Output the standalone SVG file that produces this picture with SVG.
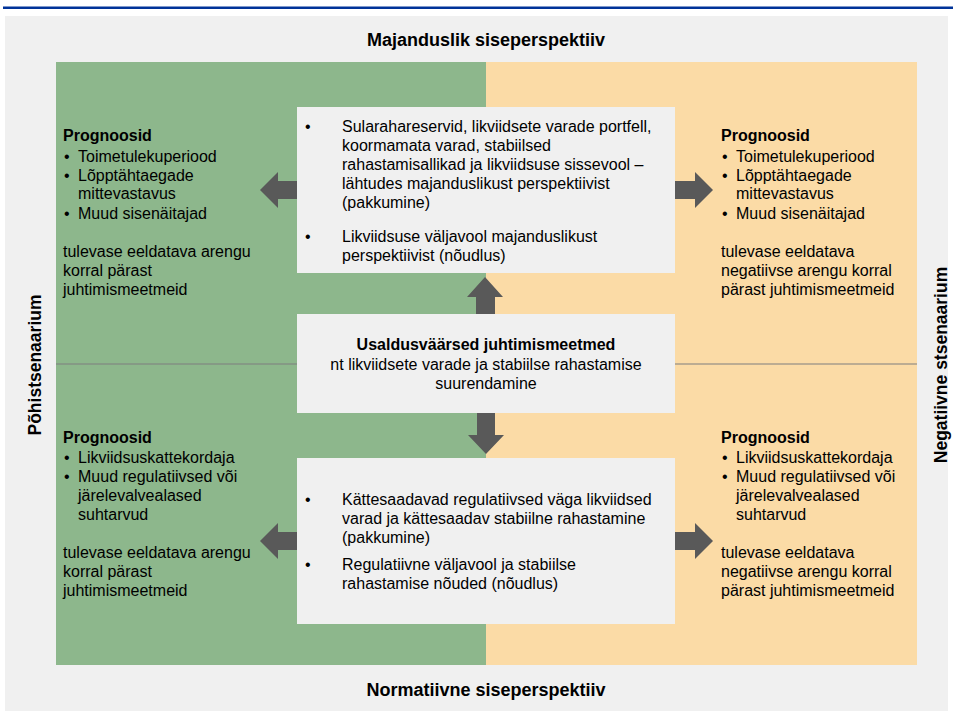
<svg xmlns="http://www.w3.org/2000/svg" width="953" height="711" viewBox="0 0 953 711">
<defs>
<style>
text{font-family:"Liberation Sans",Arial,sans-serif;fill:#000}
.t{font-size:16px}
.b{font-weight:bold}
.h{font-size:18px;font-weight:bold}
.s{font-size:17.5px;font-weight:bold}
.box{fill:#f0f0f0}
.arr{fill:#595959}
</style>
</defs>
<rect x="0" y="0" width="953" height="711" fill="#ffffff"/>
<line x1="3" y1="7.8" x2="953" y2="7.8" stroke="#003399" stroke-width="2.5"/>
<rect x="5" y="16" width="943" height="695" fill="#f0f0f0"/>
<rect x="56" y="62" width="430" height="603" fill="#8db78c"/>
<rect x="486" y="62" width="431" height="603" fill="#fbdba6"/>
<line x1="56" y1="364" x2="917" y2="364" stroke="#7f7f7f" stroke-width="1.2"/>

<g id="title-top"><text class="h" x="486" y="46" text-anchor="middle">Majanduslik siseperspektiiv</text></g>
<g id="title-bottom"><text class="h" x="486" y="696" text-anchor="middle">Normatiivne siseperspektiiv</text></g>
<g id="label-left"><text class="s" transform="translate(41,365) rotate(-90)" text-anchor="middle">Põhistsenaarium</text></g>
<g id="label-right"><text class="s" transform="translate(947,365) rotate(-90)" text-anchor="middle">Negatiivne stsenaarium</text></g>

<g id="top-left">
<text class="t b" x="63" y="141">Prognoosid</text>
<text class="t"><tspan x="64" y="162">•</tspan><tspan x="78" y="162">Toimetulekuperiood</tspan></text>
<text class="t"><tspan x="64" y="181">•</tspan><tspan x="78" y="181">Lõpptähtaegade</tspan><tspan x="78" y="199">mittevastavus</tspan></text>
<text class="t"><tspan x="64" y="219">•</tspan><tspan x="78" y="219">Muud sisenäitajad</tspan></text>
<text class="t"><tspan x="63" y="257">tulevase eeldatava arengu</tspan><tspan x="63" y="276">korral pärast</tspan><tspan x="63" y="295">juhtimismeetmeid</tspan></text>
</g>

<g id="top-right">
<text class="t b" x="721" y="141">Prognoosid</text>
<text class="t"><tspan x="722" y="162">•</tspan><tspan x="736" y="162">Toimetulekuperiood</tspan></text>
<text class="t"><tspan x="722" y="181">•</tspan><tspan x="736" y="181">Lõpptähtaegade</tspan><tspan x="736" y="199">mittevastavus</tspan></text>
<text class="t"><tspan x="722" y="219">•</tspan><tspan x="736" y="219">Muud sisenäitajad</tspan></text>
<text class="t"><tspan x="721" y="257">tulevase eeldatava</tspan><tspan x="721" y="276">negatiivse arengu korral</tspan><tspan x="721" y="295">pärast juhtimismeetmeid</tspan></text>
</g>

<g id="bottom-left">
<text class="t b" x="63" y="443">Prognoosid</text>
<text class="t"><tspan x="64" y="463">•</tspan><tspan x="78" y="463">Likviidsuskattekordaja</tspan></text>
<text class="t"><tspan x="64" y="482">•</tspan><tspan x="78" y="482">Muud regulatiivsed või</tspan><tspan x="78" y="501">järelevalvealased</tspan><tspan x="78" y="520">suhtarvud</tspan></text>
<text class="t"><tspan x="63" y="558">tulevase eeldatava arengu</tspan><tspan x="63" y="577">korral pärast</tspan><tspan x="63" y="596">juhtimismeetmeid</tspan></text>
</g>

<g id="bottom-right">
<text class="t b" x="721" y="443">Prognoosid</text>
<text class="t"><tspan x="722" y="463">•</tspan><tspan x="736" y="463">Likviidsuskattekordaja</tspan></text>
<text class="t"><tspan x="722" y="482">•</tspan><tspan x="736" y="482">Muud regulatiivsed või</tspan><tspan x="736" y="501">järelevalvealased</tspan><tspan x="736" y="520">suhtarvud</tspan></text>
<text class="t"><tspan x="721" y="558">tulevase eeldatava</tspan><tspan x="721" y="577">negatiivse arengu korral</tspan><tspan x="721" y="596">pärast juhtimismeetmeid</tspan></text>
</g>

<g id="box-top">
<rect class="box" x="297" y="107" width="378" height="166"/>
<text class="t"><tspan x="305" y="132">•</tspan><tspan x="342" y="132">Sularahareservid, likviidsete varade portfell,</tspan><tspan x="342" y="151">koormamata varad, stabiilsed</tspan><tspan x="342" y="170">rahastamisallikad ja likviidsuse sissevool –</tspan><tspan x="342" y="189">lähtudes majanduslikust perspektiivist</tspan><tspan x="342" y="208">(pakkumine)</tspan></text>
<text class="t"><tspan x="305" y="242">•</tspan><tspan x="342" y="242">Likviidsuse väljavool majanduslikust</tspan><tspan x="342" y="261">perspektiivist (nõudlus)</tspan></text>
</g>

<g id="box-middle">
<rect class="box" x="297" y="314" width="378" height="99"/>
<text class="t b" x="486" y="350" text-anchor="middle">Usaldusväärsed juhtimismeetmed</text>
<text class="t" text-anchor="middle"><tspan x="486" y="370">nt likviidsete varade ja stabiilse rahastamise</tspan><tspan x="486" y="389">suurendamine</tspan></text>
</g>

<g id="box-bottom">
<rect class="box" x="297" y="458" width="378" height="166"/>
<text class="t"><tspan x="305" y="505">•</tspan><tspan x="342" y="505">Kättesaadavad regulatiivsed väga likviidsed</tspan><tspan x="342" y="524">varad ja kättesaadav stabiilne rahastamine</tspan><tspan x="342" y="543">(pakkumine)</tspan></text>
<text class="t"><tspan x="305" y="570">•</tspan><tspan x="342" y="570">Regulatiivne väljavool ja stabiilse</tspan><tspan x="342" y="589">rahastamise nõuded (nõudlus)</tspan></text>
</g>

<g id="connectors">
<polygon class="arr" points="297,181 278,181 278,172 260,190 278,208 278,199 297,199"/>
<polygon class="arr" points="675,181 695,181 695,172 713,190 695,208 695,199 675,199"/>
<polygon class="arr" points="297,532 278,532 278,523 260,541 278,559 278,550 297,550"/>
<polygon class="arr" points="675,532 695,532 695,523 713,541 695,559 695,550 675,550"/>
<polygon class="arr" points="476,314 476,297 467,297 485,277 503,297 495,297 495,314"/>
<polygon class="arr" points="477,413 477,435 468,435 486,454 504,435 495,435 495,413"/>
</g>
</svg>
